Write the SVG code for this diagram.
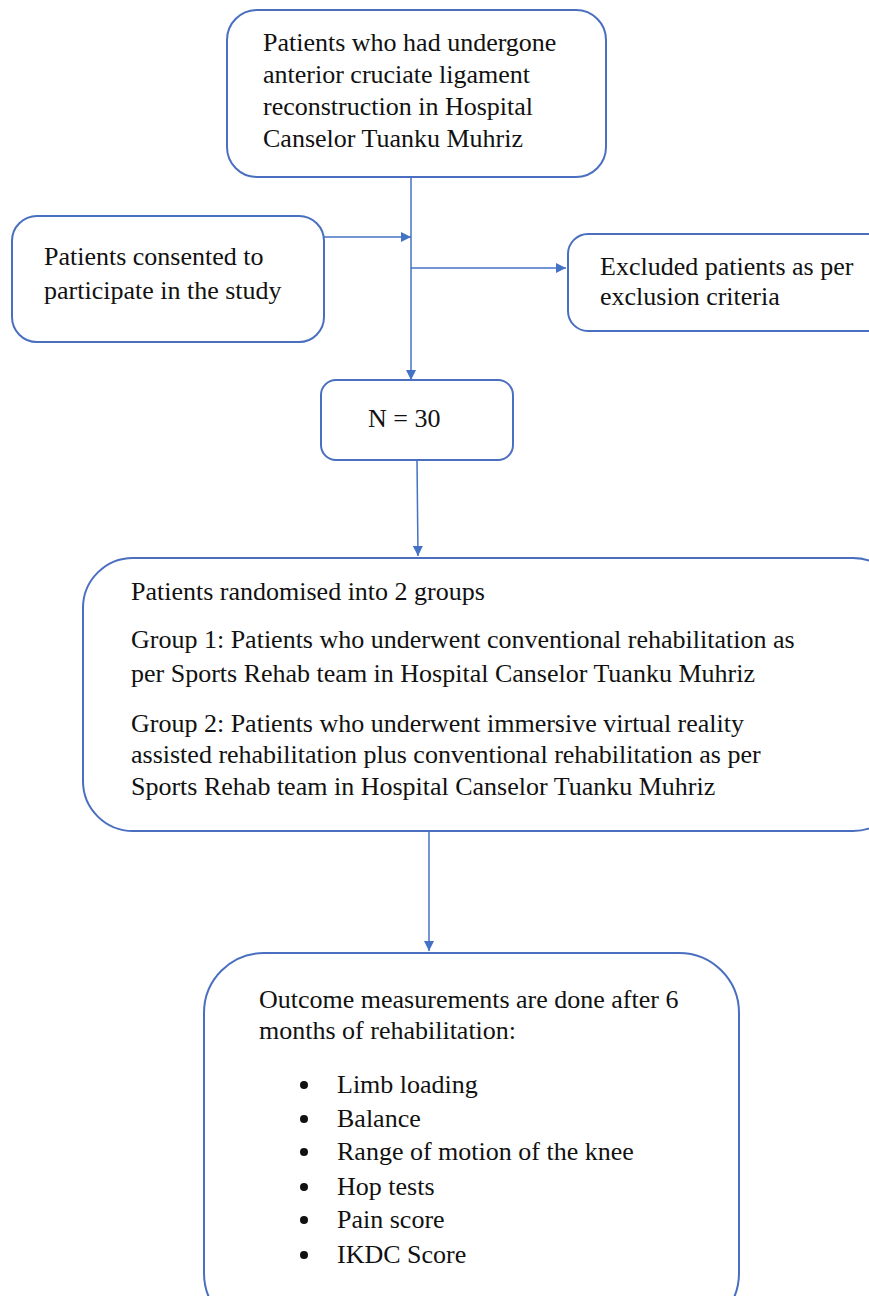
<svg xmlns="http://www.w3.org/2000/svg" width="869" height="1296" viewBox="0 0 869 1296">
<defs>
<marker id="ah" viewBox="0 0 10 10" refX="10" refY="5" markerWidth="10" markerHeight="10" markerUnits="userSpaceOnUse" orient="auto">
<path d="M0,0 L10,5 L0,10 z" fill="#4472C4"/>
</marker>
<style>
.box{fill:#fff;stroke:#4a6fc0;stroke-width:2}
.t{font-family:"Liberation Serif","Times New Roman",serif;font-size:26px;fill:#111}
.c{stroke:#4472C4;stroke-width:1.5;fill:none}
</style>
</defs>
<rect width="869" height="1296" fill="#fff"/>
<g id="connectors">
<line class="c" x1="411" y1="177" x2="411" y2="380" marker-end="url(#ah)"/>
<line class="c" x1="324" y1="237" x2="411" y2="237" marker-end="url(#ah)"/>
<line class="c" x1="411" y1="268" x2="566" y2="268" marker-end="url(#ah)"/>
<line class="c" x1="417" y1="460" x2="418" y2="556" marker-end="url(#ah)"/>
<line class="c" x1="429" y1="831" x2="429" y2="951" marker-end="url(#ah)"/>
</g>
<g id="n1">
<rect class="box" x="227" y="10" width="379" height="167" rx="30"/>
<text class="t"><tspan x="263" y="51">Patients who had undergone</tspan><tspan x="263" y="83">anterior cruciate ligament</tspan><tspan x="263" y="115">reconstruction in Hospital</tspan><tspan x="263" y="147">Canselor Tuanku Muhriz</tspan></text>
</g>
<g id="n2">
<rect class="box" x="12" y="216" width="312" height="126" rx="25"/>
<text class="t"><tspan x="44" y="265">Patients consented to</tspan><tspan x="44" y="299">participate in the study</tspan></text>
</g>
<g id="n3">
<rect class="box" x="568" y="234" width="320" height="97" rx="20"/>
<text class="t"><tspan x="600" y="275">Excluded patients as per</tspan><tspan x="600" y="305">exclusion criteria</tspan></text>
</g>
<g id="n4">
<rect class="box" x="321" y="380" width="192" height="80" rx="15"/>
<text class="t" x="368" y="427">N = 30</text>
</g>
<g id="n5">
<rect class="box" x="83" y="558" width="820" height="273" rx="50"/>
<text class="t"><tspan x="131" y="600">Patients randomised into 2 groups</tspan><tspan x="131" y="648">Group 1: Patients who underwent conventional rehabilitation as</tspan><tspan x="131" y="682">per Sports Rehab team in Hospital Canselor Tuanku Muhriz</tspan><tspan x="131" y="732">Group 2: Patients who underwent immersive virtual reality</tspan><tspan x="131" y="763">assisted rehabilitation plus conventional rehabilitation as per</tspan><tspan x="131" y="795">Sports Rehab team in Hospital Canselor Tuanku Muhriz</tspan></text>
</g>
<g id="n6">
<rect class="box" x="204" y="953" width="535" height="380" rx="60"/>
<text class="t"><tspan x="259" y="1008">Outcome measurements are done after 6</tspan><tspan x="259" y="1039">months of rehabilitation:</tspan></text>
<g fill="#111">
<circle cx="304" cy="1085" r="4"/>
<circle cx="304" cy="1119" r="4"/>
<circle cx="304" cy="1152" r="4"/>
<circle cx="304" cy="1187" r="4"/>
<circle cx="304" cy="1220" r="4"/>
<circle cx="304" cy="1255" r="4"/>
</g>
<text class="t"><tspan x="337" y="1093">Limb loading</tspan><tspan x="337" y="1127">Balance</tspan><tspan x="337" y="1160">Range of motion of the knee</tspan><tspan x="337" y="1195">Hop tests</tspan><tspan x="337" y="1228">Pain score</tspan><tspan x="337" y="1263">IKDC Score</tspan></text>
</g>
</svg>
